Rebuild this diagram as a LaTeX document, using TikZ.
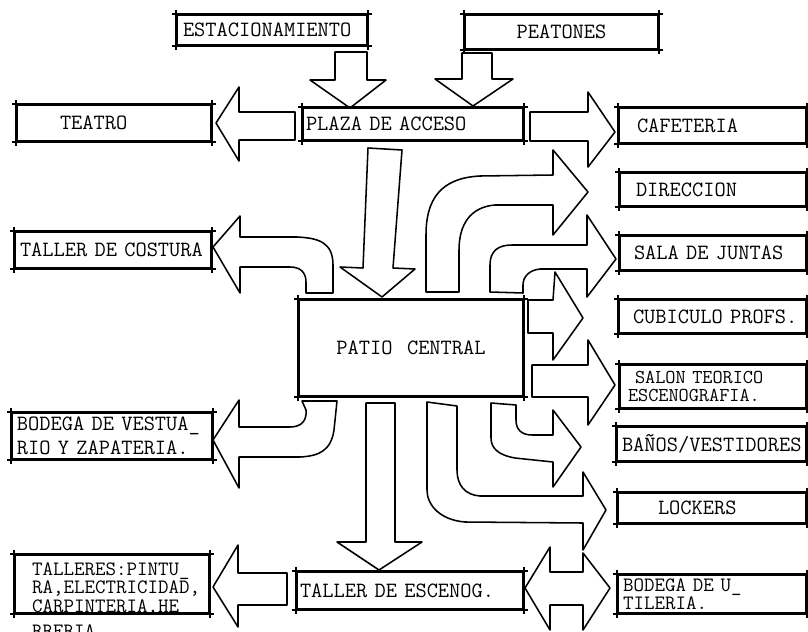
\documentclass[tikz,border=0pt]{standalone}
\usepackage{tikz}
\newdimen\px
\px=0.025cm
\tikzset{
  trazo/.style={line width=1.1pt, line join=round},
  flecha/.style={trazo},
  room/.style={draw, trazo, inner ysep=0pt, align=left, font=\fontsize{15.5}{18}\selectfont\ttfamily},
}

\begin{document}
\begin{tikzpicture}[x=0.025cm, y=-0.025cm]
\useasboundingbox (0,0) rectangle (808,631);

\node[room, minimum height=30\px, inner xsep=6\px, text width=178\px] (estac) at (272,30) {ESTACIONAMIENTO};
\node[room, minimum height=34\px, inner xsep=0\px, text width=193\px, align=center] (peatones) at (561.5,32) {PEATONES};
\node[room, minimum height=36\px, inner xsep=43\px, text width=108\px] (teatro) at (114,123) {TEATRO};
\node[room, minimum height=32\px, inner xsep=3\px, text width=214\px] (plaza) at (413,124) {PLAZA~DE~ACCESO};
\node[room, minimum height=35\px, inner xsep=18\px, text width=151\px] (cafeteria) at (712.5,125.5) {CAFETERIA};
\node[room, minimum height=33\px, inner xsep=16\px, text width=154\px] (direccion) at (713,189.5) {DIRECCION};
\node[room, minimum height=34\px, inner xsep=14\px, text width=158\px] (sala) at (713,253) {SALA~DE~JUNTAS};
\node[room, minimum height=36\px, inner xsep=5\px, text width=186\px] (costura) at (113,250) {TALLER~DE~COSTURA};
\node[room, minimum height=96\px, inner xsep=0\px, text width=224\px, align=center] (patio) at (411,348) {PATIO~~CENTRAL};
\node[room, minimum height=33\px, inner xsep=14\px, text width=159\px] (cubiculo) at (712.5,316.5) {CUBICULO~PROFS.};
\node[room, minimum height=43\px, inner xsep=8\px, text width=170\px, font=\fontsize{14}{13}\selectfont\ttfamily] (salon) at (713,386.5) {\hspace*{7\px}SALON~TEORICO\\ESCENOGRAFIA.};
\node[room, minimum height=46\px, inner xsep=5\px, text width=190\px, font=\fontsize{15.5}{17}\selectfont\ttfamily] (bodegav) at (112,436) {BODEGA~DE~VESTUA\_\\RIO~Y~ZAPATERIA.};
\node[room, minimum height=34\px, inner xsep=5\px, text width=179\px] (banos) at (711.5,444) {BAÑOS/VESTIDORES};
\node[room, minimum height=30\px, inner xsep=40\px, text width=108\px] (lockers) at (712,508) {LOCKERS};
\node[room, inner xsep=17\px, text width=160\px, text height=20\px, text depth=38\px, font=\fontsize{14.5}{13.2}\selectfont\ttfamily] (talleres) at (112,584) {TALLERES:PINTU\_\\RA,ELECTRICIDAD,\\CARPINTERIA,HE\\[7\px]RRERIA.};
\node[room, minimum height=38\px, inner xsep=5\px, text width=178\px, font=\fontsize{14.5}{13}\selectfont\ttfamily] (bodegau) at (712,594) {BODEGA~DE~U\_\\TILERIA.};
\node[room, minimum height=37\px, inner xsep=3\px, text width=220\px] (tescen) at (410,590.5) {TALLER~DE~ESCENOG.};

\foreach \n in {estac,peatones,teatro,plaza,cafeteria,direccion,sala,costura,patio,cubiculo,salon,bodegav,banos,lockers,talleres,bodegau,tescen}{
  \draw[trazo] ([xshift=-3pt]\n.north west) -- ([xshift=3pt]\n.north east);
  \draw[trazo] ([xshift=-3pt]\n.south west) -- ([xshift=3pt]\n.south east);
  \draw[trazo] ([yshift=3pt]\n.north west) -- ([yshift=-3pt]\n.south west);
  \draw[trazo] ([yshift=3pt]\n.north east) -- ([yshift=-3pt]\n.south east);
}

\draw[flecha] (335,52) -- (367,52) -- (367,80) -- (386,80) -- (350,108) -- (310,80) -- (335,80) -- cycle;
\draw[flecha] (462,53) -- (492,53) -- (492,79) -- (513,79) -- (473,106) -- (435,79) -- (462,79) -- cycle;
\draw[flecha] (295,112) -- (295,140) -- (239,140) -- (239,161) -- (216,123) -- (239,87) -- (239,112) -- cycle;
\draw[flecha] (530,112) -- (588,112) -- (588,92) -- (615,132) -- (588,167) -- (588,141) -- (530,141) -- cycle;
\draw[flecha] (368,148) -- (402,150) -- (393,268) -- (415,269) -- (382,297) -- (340,267) -- (363,268) -- cycle;

\draw[flecha] (306,293) -- (333,293) -- (333,265) .. controls (333,242) and (318,238) .. (297,237) -- (240,237) -- (240,216) -- (213,247) -- (240,293) -- (240,267) -- (290,267) .. controls (301,267) and (306,273) .. (306,282) -- cycle;
\draw[flecha] (302,401) -- (337,401) -- (334,430) .. controls (331,450) and (320,456) .. (300,457) -- (239,457) -- (239,488) -- (213,440) -- (239,400) -- (239,427) -- (290,427) .. controls (302,427) and (307,420) .. (306,410) -- cycle;
\draw[flecha] (366,403) -- (395,403) -- (395,542) -- (422,542) -- (379,570) -- (337,542) -- (366,542) -- cycle;
\draw[flecha] (287,573) -- (287,605) -- (238,605) -- (238,627) -- (213,587) -- (238,545) -- (238,573) -- cycle;
\draw[flecha] (550,572) -- (583,572) -- (583,553) -- (610,588) -- (583,630) -- (583,605) -- (550,605) -- (550,630) -- (525,588) -- (550,547) -- cycle;

\draw[flecha] (426,292) -- (426,235) .. controls (426,200) and (440,178) .. (480,176) -- (553,175) -- (553,150) -- (588,192) -- (553,235) -- (553,205) -- (495,205) .. controls (470,207) and (459,225) .. (459,250) -- (459,292) -- cycle;
\draw[flecha] (490,292) -- (490,265) .. controls (490,251) and (498,245) .. (512,245) -- (587,245) -- (587,215) -- (616,259) -- (587,297) -- (587,269) -- (540,269) .. controls (530,270) and (523,276) .. (523,285) -- (523,293) -- cycle;
\draw[flecha] (528,300) -- (553,300) -- (555,272) -- (583,318) -- (553,360) -- (553,333) -- (528,333) -- cycle;
\draw[flecha] (532,365) -- (588,365) -- (588,340) -- (615,385) -- (588,425) -- (588,397) -- (532,397) -- cycle;
\draw[flecha] (491,403) -- (516,405) -- (516,420) .. controls (516,430) and (522,435) .. (532,435) -- (553,435) -- (553,410) -- (581,447) -- (553,487) -- (553,462) -- (515,458) .. controls (498,455) and (491,448) .. (491,438) -- cycle;
\draw[flecha] (427,402) -- (457,406) -- (457,470) .. controls (457,485) and (465,495) .. (480,496) -- (583,496) -- (583,472) -- (606,510) -- (583,550) -- (583,523) -- (465,522) .. controls (440,520) and (427,505) .. (427,490) -- cycle;

\end{tikzpicture}
\end{document}
